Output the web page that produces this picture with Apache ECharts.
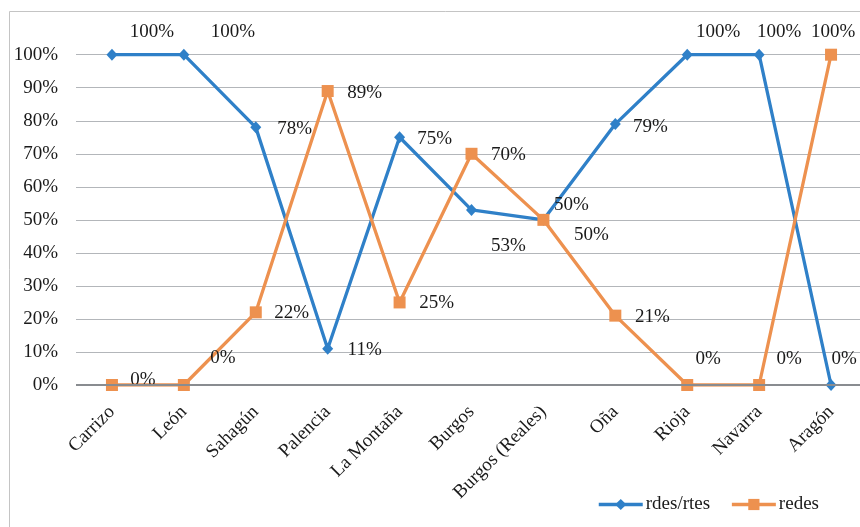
<!DOCTYPE html>
<html>
<head>
<meta charset="utf-8">
<style>
  html, body { margin: 0; padding: 0; background: #ffffff; overflow: hidden; }
  #chart { width: 880px; height: 527px; }
</style>
<script src="https://cdn.jsdelivr.net/npm/echarts@6/dist/echarts.min.js"></script>
</head>
<body>
<div id="chart"></div>
<script>
// Regions along the x axis
const categories = ['Carrizo', 'León', 'Sahagún', 'Palencia', 'La Montaña', 'Burgos',
  'Burgos (Reales)', 'Oña', 'Rioja', 'Navarra', 'Aragón'];

// Shares in percent
const rdesRtes = [100, 100, 78, 11, 75, 53, 50, 79, 100, 100, 0];
const redes = [0, 0, 22, 89, 25, 70, 50, 21, 0, 0, 100];

// Y-axis ticks
const yTicks = [0, 10, 20, 30, 40, 50, 60, 70, 80, 90, 100];

// Label placement relative to each point (pixels)
const blueLabelShift = [[40, -23], [49, -23], [39, 2], [37, 1], [35, 2], [37, 36],
  [28, -15], [35, 3], [31, -23], [20, -23], [13, -26]];
const orangeLabelShift = [[31, -5], [39, -27], [36, 1], [37, 2], [37, 1], [37, 1],
  [48, 15], [37, 1], [21, -26], [30, -26], [2, -23]];

const FONT = '"Liberation Serif", "Times New Roman", serif';
const TEXT = '#1a1a1a';
const BLUE = '#2f80c8';
const ORANGE = '#ed914f';

function points(values, shifts) {
  return values.map((v, i) => ({ value: v, label: { offset: shifts[i] } }));
}

const chart = echarts.init(document.getElementById('chart'), null, { renderer: 'canvas' });

chart.setOption({
  backgroundColor: '#ffffff',
  animation: false,
  graphic: [{
    type: 'rect',
    shape: { x: 9.5, y: 11.5, width: 900, height: 600 },
    style: { fill: 'none', stroke: '#c4c4c4', lineWidth: 1 },
    silent: true,
    z: -10
  }],
  grid: { left: 76, top: 54.7, width: 791, height: 330.3, containLabel: false },
  legend: {
    left: 597, top: 495, padding: 0,
    itemWidth: 44, itemHeight: 14, itemGap: 20,
    lineStyle: { width: 3.5 },
    textStyle: { fontFamily: FONT, fontSize: 19, color: TEXT, padding: [0, 0, 0, -2] },
    data: ['rdes/rtes', 'redes']
  },
  xAxis: {
    type: 'category',
    data: categories,
    boundaryGap: true,
    axisLine: { show: false },
    axisTick: { show: false },
    axisLabel: {
      rotate: 45, margin: 24, interval: 0,
      fontFamily: FONT, fontSize: 19, color: TEXT
    }
  },
  yAxis: {
    type: 'value',
    min: yTicks[0], max: yTicks[yTicks.length - 1], interval: 10,
    axisLine: { show: false },
    axisTick: { show: false },
    axisLabel: {
      margin: 18, fontFamily: FONT, fontSize: 19, color: TEXT,
      formatter: v => v + '%'
    },
    splitLine: { lineStyle: { color: '#b3b6ba', width: 1.2 } }
  },
  series: [
    {
      name: 'rdes/rtes',
      type: 'line',
      data: points(rdesRtes, blueLabelShift),
      symbol: 'diamond', symbolSize: [11, 12],
      lineStyle: { color: BLUE, width: 3.3 },
      itemStyle: { color: BLUE },
      label: {
        show: true, position: 'inside', align: 'center', verticalAlign: 'middle',
        fontFamily: FONT, fontSize: 19, color: TEXT,
        formatter: p => p.value + '%'
      },
      z: 3
    },
    {
      name: 'redes',
      type: 'line',
      data: points(redes, orangeLabelShift),
      symbol: 'rect', symbolSize: 12,
      lineStyle: { color: ORANGE, width: 3.3 },
      itemStyle: { color: ORANGE },
      label: {
        show: true, position: 'inside', align: 'center', verticalAlign: 'middle',
        fontFamily: FONT, fontSize: 19, color: TEXT,
        formatter: p => p.value + '%'
      },
      markLine: {
        silent: true, symbol: 'none', label: { show: false },
        lineStyle: { color: '#898c90', width: 1.8, type: 'solid' },
        data: [{ yAxis: 0 }]
      },
      z: 4
    }
  ]
});
</script>
</body>
</html>
